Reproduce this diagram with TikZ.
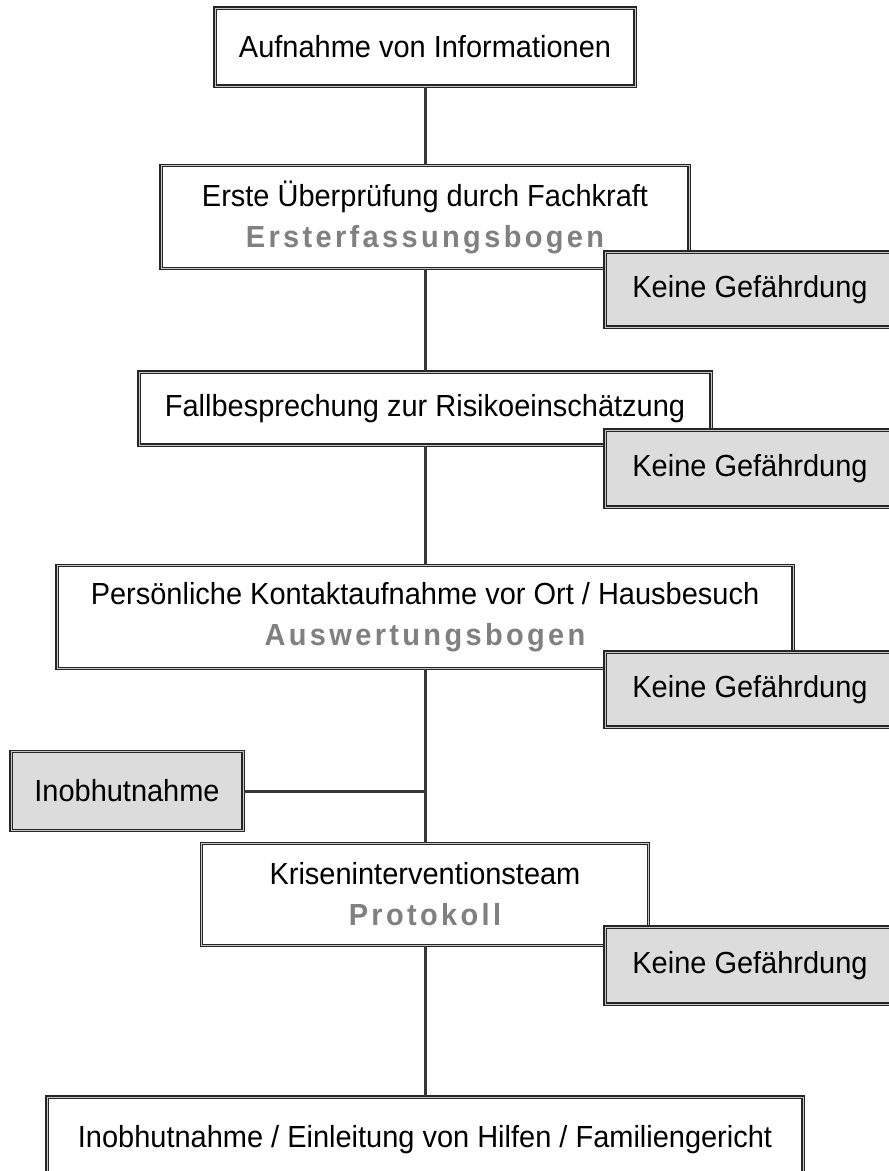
\documentclass[tikz,border=0pt]{standalone}
\usepackage{fontspec}
\setmainfont{Liberation Sans}[FakeStretch=0.95]
\newfontfamily\spacedfont{Liberation Sans Bold}[LetterSpace=11, FakeStretch=0.95]
\definecolor{subgray}{RGB}{128,128,128}
\definecolor{boxgray}{RGB}{220,220,220}
\definecolor{linegray}{RGB}{55,55,55}
\tikzset{
  box/.style={draw=black!85, double=gray!45, line width=1.2pt, double distance=0.9pt,
    fill=white, inner sep=0pt, align=center, font=\fontsize{30.5}{41}\selectfont},
  gbox/.style={box, fill=boxgray},
  conn/.style={draw=linegray, line width=3pt},
}
\newcommand{\subt}[1]{{\spacedfont\fontsize{30.5}{41}\selectfont\color{subgray}#1}}
\begin{document}
\begin{tikzpicture}[x=1pt,y=-1pt]
\useasboundingbox (0,0) rectangle (889,1171);
\clip (0,0) rectangle (889,1171);
\coordinate (j) at (425,791);
\node[box, minimum width=420, minimum height=78] (b1) at (425,47) {Aufnahme von Informationen};
\node[box, minimum width=528, minimum height=103] (b2) at (425,217) {Erste Überprüfung durch Fachkraft\\\subt{Ersterfassungsbogen}};
\node[gbox, minimum width=290, minimum height=75] (k1) at (750,289.5) {Keine Gefährdung};
\node[box, minimum width=572, minimum height=73] (b3) at (425,408.5) {Fallbesprechung zur Risikoeinschätzung};
\node[gbox, minimum width=290, minimum height=77] (k2) at (750,468.5) {Keine Gefährdung};
\node[box, minimum width=736, minimum height=103] (b4) at (425,617) {Persönliche Kontaktaufnahme vor Ort / Hausbesuch\\\subt{Auswertungsbogen}};
\node[gbox, minimum width=290, minimum height=75] (k3) at (750,689.5) {Keine Gefährdung};
\node[gbox, minimum width=232, minimum height=79] (inob) at (127,791) {Inobhutnahme};
\node[box, minimum width=447, minimum height=102] (b5) at (425,894.5) {Kriseninterventionsteam\\\subt{Protokoll}};
\node[gbox, minimum width=290, minimum height=77] (k4) at (750,965.5) {Keine Gefährdung};
\node[box, minimum width=756, minimum height=86] (b6) at (425,1140) {Inobhutnahme / Einleitung von Hilfen / Familiengericht};
\draw[conn] (b1.south) -- (b2.north);
\draw[conn] (b2.south) -- (b3.north);
\draw[conn] (b3.south) -- (b4.north);
\draw[conn] (b4.south) -- (b5.north);
\draw[conn] (inob.east) -- (j);
\draw[conn] (b5.south) -- (b6.north);
\end{tikzpicture}
\end{document}
